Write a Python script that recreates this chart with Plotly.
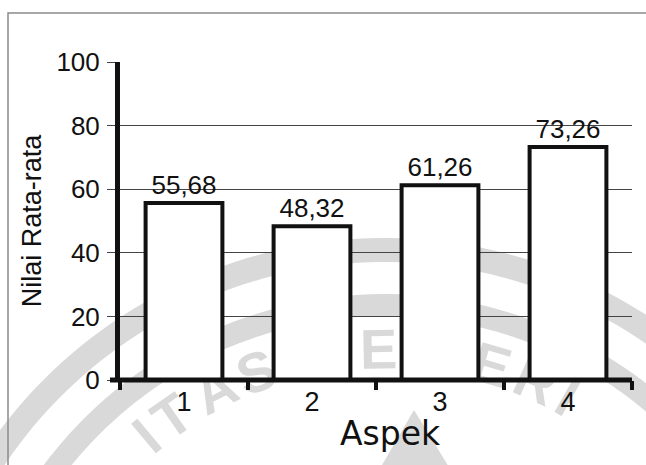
import numpy as np
import plotly.graph_objects as go

# Mean score per aspect
aspects = ["1", "2", "3", "4"]
mean_scores = [55.68, 48.32, 61.26, 73.26]
y_ticks = [0, 20, 40, 60, 80, 100]

labels = [f"{v:.2f}".replace(".", ",") for v in mean_scores]

W, H = 646, 465
ML, MR, MT, MB = 120, 14, 62, 85
PW, PH = W - ML - MR, H - MT - MB
FONT = "Liberation Sans, Arial, sans-serif"
MARK = "#d9d9d9"


def px_to_paper(x, y):
    return (x - ML) / PW, (H - MB - y) / PH


fig = go.Figure(
    go.Bar(
        x=aspects,
        y=mean_scores,
        width=0.6,
        marker=dict(color="white", line=dict(color="#111111", width=4)),
        text=labels,
        textposition="outside",
        textfont=dict(family=FONT, size=26, color="#111111"),
        cliponaxis=False,
        hoverinfo="skip",
    )
)

shapes = []

# --- background logo watermark (rings, lettering, triangle) ---
CX, CY = 385, 720


def arc_path(r, a0, a1, n=120):
    t = np.radians(np.linspace(a0, a1, n))
    pts = [px_to_paper(CX + r * np.cos(a), CY + r * np.sin(a)) for a in t]
    return "M " + " L ".join(f"{a:.4f},{b:.4f}" for a, b in pts)


for r, w in [(470, 24), (415, 22)]:
    shapes.append(dict(type="path", xref="paper", yref="paper",
                       path=arc_path(r, -170, -10),
                       line=dict(color=MARK, width=w), layer="below"))

# lettering around the inner ring (letter, angle in degrees)
ring_letters = [("I", -130), ("T", -125), ("A", -117.2), ("S", -110.3),
                ("N", -98), ("E", -91), ("G", -82), ("E", -73.3),
                ("R", -66), ("I", -60.5)]
for ch, ang in ring_letters:
    lx, ly = CX + 376 * np.cos(np.radians(ang)), CY + 376 * np.sin(np.radians(ang))
    px0, py0 = px_to_paper(lx - 1, ly + 1)
    px1, py1 = px_to_paper(lx + 1, ly - 1)
    shapes.append(dict(type="rect", xref="paper", yref="paper",
                       x0=px0, y0=py0, x1=px1, y1=py1,
                       line=dict(width=0), fillcolor="rgba(0,0,0,0)", layer="below",
                       label=dict(text=f"<b>{ch}</b>", textangle=ang + 90,
                                  textposition="middle center",
                                  font=dict(family="Liberation Sans, Arial, sans-serif",
                                            size=56, color=MARK))))

tri = [px_to_paper(*p) for p in [(414, 410), (378, 472), (452, 472)]]
shapes.append(dict(type="path", xref="paper", yref="paper",
                   path="M {:.4f},{:.4f} L {:.4f},{:.4f} L {:.4f},{:.4f} Z".format(
                       tri[0][0], tri[0][1], tri[1][0], tri[1][1], tri[2][0], tri[2][1]),
                   fillcolor=MARK, line=dict(width=0), layer="below"))

# outer frame
fx0, fy0 = px_to_paper(8, 470)
fx1, fy1 = px_to_paper(652, 13)
shapes.append(dict(type="rect", xref="paper", yref="paper", x0=fx0, y0=fy0, x1=fx1, y1=fy1,
                   line=dict(color="#8a8a8a", width=1.5), layer="below"))

# x-axis baseline extending left past the value axis
lx0, _ = px_to_paper(110, 380)
shapes.append(dict(type="line", xref="paper", yref="paper", x0=lx0, x1=1.0, y0=0, y1=0,
                   line=dict(color="#111111", width=5)))

# x-axis title
tx, ty = px_to_paper(390, 433)
annotations = [dict(text="Aspek", xref="paper", yref="paper", x=tx, y=ty,
                    xanchor="center", yanchor="middle", showarrow=False,
                    font=dict(family="DejaVu Sans, sans-serif", size=33, color="#111111"))]

fig.update_layout(
    width=W,
    height=H,
    margin=dict(l=ML, r=MR, t=MT, b=MB),
    paper_bgcolor="white",
    plot_bgcolor="rgba(0,0,0,0)",
    showlegend=False,
    shapes=shapes,
    annotations=annotations,
    font=dict(family=FONT, color="#111111"),
)

fig.update_xaxes(
    type="category",
    range=[-0.5, 3.5],
    tickson="boundaries",
    ticks="outside",
    ticklen=9,
    tickwidth=4,
    tickcolor="#111111",
    showline=False,
    showgrid=False,
    tickfont=dict(size=27),
    ticklabelstandoff=3,
)

fig.update_yaxes(
    range=[0, 100],
    tickvals=y_ticks,
    ticks="outside",
    ticklen=8,
    tickwidth=1,
    tickcolor="#444444",
    showline=True,
    linewidth=5,
    linecolor="#111111",
    showgrid=True,
    gridcolor="#444444",
    gridwidth=1,
    zeroline=False,
    tickfont=dict(size=26),
    ticklabelstandoff=2,
    title=dict(text="Nilai Rata-rata", font=dict(size=27), standoff=8),
)

fig.write_html("out.html")
